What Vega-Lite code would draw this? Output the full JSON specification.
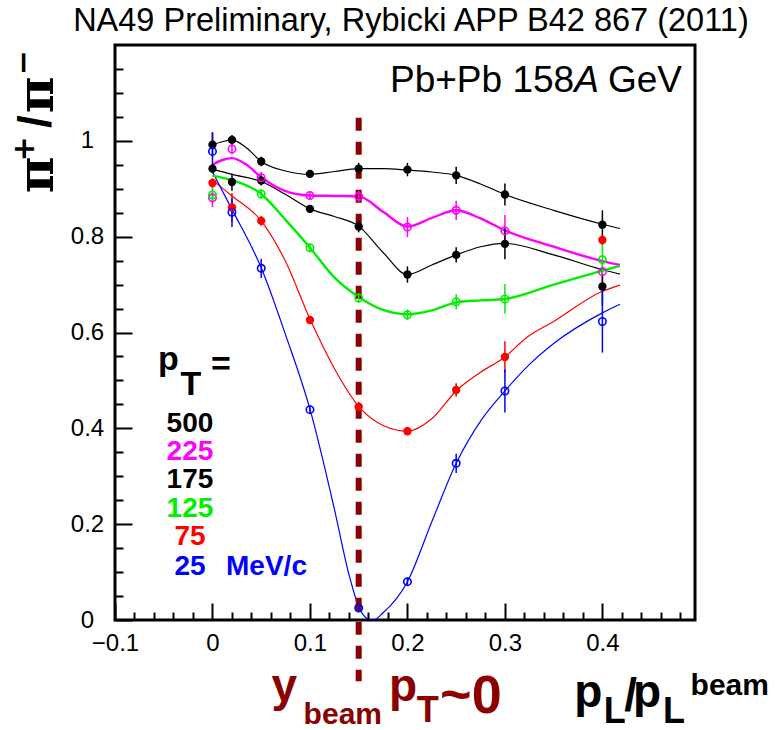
{
  "$schema": "https://vega.github.io/schema/vega-lite/v6.json",
  "width": 580,
  "height": 575,
  "autosize": {"type": "none"},
  "padding": {"left": 115, "top": 45, "right": 83, "bottom": 110},
  "background": "white",
  "config": {"view": {"stroke": "#000", "strokeWidth": 3}},
  "resolve": {"axis": {"x": "independent", "y": "independent"}},
  "datasets": {
    "pts": [
      {"s":"500","x":0,"y":0.992,"lo":0.967,"hi":1.017},
      {"s":"500","x":0.02,"y":1.002,"lo":0.992,"hi":1.012},
      {"s":"500","x":0.05,"y":0.957,"lo":0.947,"hi":0.967},
      {"s":"500","x":0.1,"y":0.931,"lo":0.923,"hi":0.939},
      {"s":"500","x":0.15,"y":0.942,"lo":0.930,"hi":0.954},
      {"s":"500","x":0.2,"y":0.940,"lo":0.926,"hi":0.954},
      {"s":"500","x":0.25,"y":0.928,"lo":0.910,"hi":0.946},
      {"s":"500","x":0.3,"y":0.888,"lo":0.865,"hi":0.911},
      {"s":"500","x":0.4,"y":0.825,"lo":0.795,"hi":0.855},
      {"s":"225","x":0,"y":0.881,"lo":0.862,"hi":0.900},
      {"s":"225","x":0.02,"y":0.983,"lo":0.972,"hi":0.994},
      {"s":"225","x":0.05,"y":0.923,"lo":0.911,"hi":0.935},
      {"s":"225","x":0.1,"y":0.886,"lo":0.878,"hi":0.894},
      {"s":"225","x":0.15,"y":0.884,"lo":0.872,"hi":0.896},
      {"s":"225","x":0.2,"y":0.820,"lo":0.799,"hi":0.841},
      {"s":"225","x":0.25,"y":0.855,"lo":0.835,"hi":0.875},
      {"s":"225","x":0.3,"y":0.812,"lo":0.779,"hi":0.845},
      {"s":"225","x":0.4,"y":0.727,"lo":0.707,"hi":0.747},
      {"s":"175","x":0,"y":0.942,"lo":0.932,"hi":0.952},
      {"s":"175","x":0.02,"y":0.914,"lo":0.896,"hi":0.932},
      {"s":"175","x":0.05,"y":0.917,"lo":0.907,"hi":0.927},
      {"s":"175","x":0.1,"y":0.858,"lo":0.850,"hi":0.866},
      {"s":"175","x":0.15,"y":0.821,"lo":0.809,"hi":0.833},
      {"s":"175","x":0.2,"y":0.721,"lo":0.704,"hi":0.738},
      {"s":"175","x":0.25,"y":0.762,"lo":0.746,"hi":0.778},
      {"s":"175","x":0.3,"y":0.785,"lo":0.753,"hi":0.817},
      {"s":"175","x":0.4,"y":0.696,"lo":0.656,"hi":0.736},
      {"s":"125","x":0,"y":0.887,"lo":0.872,"hi":0.902},
      {"s":"125","x":0.05,"y":0.889,"lo":0.879,"hi":0.899},
      {"s":"125","x":0.1,"y":0.777,"lo":0.769,"hi":0.785},
      {"s":"125","x":0.15,"y":0.672,"lo":0.662,"hi":0.682},
      {"s":"125","x":0.2,"y":0.637,"lo":0.626,"hi":0.648},
      {"s":"125","x":0.25,"y":0.664,"lo":0.648,"hi":0.680},
      {"s":"125","x":0.3,"y":0.670,"lo":0.639,"hi":0.701},
      {"s":"125","x":0.4,"y":0.752,"lo":0.722,"hi":0.790},
      {"s":"75","x":0,"y":0.912,"lo":0.902,"hi":0.922},
      {"s":"75","x":0.02,"y":0.861,"lo":0.831,"hi":0.891},
      {"s":"75","x":0.05,"y":0.833,"lo":0.823,"hi":0.843},
      {"s":"75","x":0.1,"y":0.626,"lo":0.618,"hi":0.634},
      {"s":"75","x":0.15,"y":0.445,"lo":0.435,"hi":0.455},
      {"s":"75","x":0.2,"y":0.394,"lo":0.386,"hi":0.402},
      {"s":"75","x":0.25,"y":0.480,"lo":0.466,"hi":0.494},
      {"s":"75","x":0.3,"y":0.549,"lo":0.516,"hi":0.582},
      {"s":"75","x":0.4,"y":0.793,"lo":0.783,"hi":0.803},
      {"s":"25","x":0,"y":0.978,"lo":0.938,"hi":1.018},
      {"s":"25","x":0.02,"y":0.851,"lo":0.820,"hi":0.880},
      {"s":"25","x":0.05,"y":0.734,"lo":0.714,"hi":0.754},
      {"s":"25","x":0.1,"y":0.439,"lo":0.431,"hi":0.447},
      {"s":"25","x":0.15,"y":0.025,"lo":0.017,"hi":0.033},
      {"s":"25","x":0.2,"y":0.080,"lo":0.072,"hi":0.088},
      {"s":"25","x":0.25,"y":0.327,"lo":0.307,"hi":0.347},
      {"s":"25","x":0.3,"y":0.478,"lo":0.433,"hi":0.523},
      {"s":"25","x":0.4,"y":0.623,"lo":0.558,"hi":0.688}
    ],
    "curves": [
      {"s":"500","x":0,"y":0.992},{"s":"500","x":0.01,"y":0.998},{"s":"500","x":0.02,"y":1.002},{"s":"500","x":0.035,"y":0.985},{"s":"500","x":0.05,"y":0.957},{"s":"500","x":0.075,"y":0.937},{"s":"500","x":0.1,"y":0.930},{"s":"500","x":0.125,"y":0.936},{"s":"500","x":0.15,"y":0.942},{"s":"500","x":0.175,"y":0.942},{"s":"500","x":0.2,"y":0.939},{"s":"500","x":0.225,"y":0.935},{"s":"500","x":0.25,"y":0.928},{"s":"500","x":0.275,"y":0.910},{"s":"500","x":0.3,"y":0.888},{"s":"500","x":0.35,"y":0.855},{"s":"500","x":0.4,"y":0.826},{"s":"500","x":0.418,"y":0.817},
      {"s":"225","x":0,"y":0.950},{"s":"225","x":0.01,"y":0.960},{"s":"225","x":0.02,"y":0.964},{"s":"225","x":0.035,"y":0.950},{"s":"225","x":0.05,"y":0.924},{"s":"225","x":0.075,"y":0.895},{"s":"225","x":0.1,"y":0.886},{"s":"225","x":0.125,"y":0.885},{"s":"225","x":0.15,"y":0.884},{"s":"225","x":0.175,"y":0.852},{"s":"225","x":0.2,"y":0.821},{"s":"225","x":0.225,"y":0.839},{"s":"225","x":0.25,"y":0.855},{"s":"225","x":0.275,"y":0.838},{"s":"225","x":0.3,"y":0.813},{"s":"225","x":0.35,"y":0.779},{"s":"225","x":0.4,"y":0.749},{"s":"225","x":0.418,"y":0.741},
      {"s":"175","x":0,"y":0.941},{"s":"175","x":0.02,"y":0.930},{"s":"175","x":0.05,"y":0.915},{"s":"175","x":0.075,"y":0.888},{"s":"175","x":0.1,"y":0.858},{"s":"175","x":0.125,"y":0.842},{"s":"175","x":0.15,"y":0.822},{"s":"175","x":0.175,"y":0.767},{"s":"175","x":0.2,"y":0.721},{"s":"175","x":0.225,"y":0.741},{"s":"175","x":0.25,"y":0.762},{"s":"175","x":0.275,"y":0.779},{"s":"175","x":0.3,"y":0.786},{"s":"175","x":0.35,"y":0.762},{"s":"175","x":0.4,"y":0.731},{"s":"175","x":0.418,"y":0.722},
      {"s":"125","x":0,"y":0.927},{"s":"125","x":0.02,"y":0.918},{"s":"125","x":0.05,"y":0.889},{"s":"125","x":0.075,"y":0.835},{"s":"125","x":0.1,"y":0.777},{"s":"125","x":0.125,"y":0.715},{"s":"125","x":0.15,"y":0.674},{"s":"125","x":0.175,"y":0.647},{"s":"125","x":0.2,"y":0.638},{"s":"125","x":0.225,"y":0.646},{"s":"125","x":0.25,"y":0.663},{"s":"125","x":0.275,"y":0.667},{"s":"125","x":0.3,"y":0.670},{"s":"125","x":0.35,"y":0.700},{"s":"125","x":0.4,"y":0.729},{"s":"125","x":0.418,"y":0.739},
      {"s":"75","x":0,"y":0.918},{"s":"75","x":0.02,"y":0.885},{"s":"75","x":0.05,"y":0.833},{"s":"75","x":0.075,"y":0.748},{"s":"75","x":0.1,"y":0.628},{"s":"75","x":0.125,"y":0.525},{"s":"75","x":0.15,"y":0.446},{"s":"75","x":0.175,"y":0.406},{"s":"75","x":0.2,"y":0.394},{"s":"75","x":0.225,"y":0.420},{"s":"75","x":0.25,"y":0.478},{"s":"75","x":0.275,"y":0.517},{"s":"75","x":0.3,"y":0.549},{"s":"75","x":0.322,"y":0.589},{"s":"75","x":0.35,"y":0.623},{"s":"75","x":0.4,"y":0.686},{"s":"75","x":0.418,"y":0.699},
      {"s":"25","x":0,"y":0.935},{"s":"25","x":0.02,"y":0.857},{"s":"25","x":0.05,"y":0.735},{"s":"25","x":0.075,"y":0.595},{"s":"25","x":0.1,"y":0.440},{"s":"25","x":0.125,"y":0.232},{"s":"25","x":0.14,"y":0.095},{"s":"25","x":0.15,"y":0.028},{"s":"25","x":0.158,"y":0.004},{"s":"25","x":0.165,"y":0.0},{"s":"25","x":0.175,"y":0.015},{"s":"25","x":0.2,"y":0.080},{"s":"25","x":0.225,"y":0.205},{"s":"25","x":0.25,"y":0.327},{"s":"25","x":0.275,"y":0.415},{"s":"25","x":0.3,"y":0.478},{"s":"25","x":0.325,"y":0.533},{"s":"25","x":0.35,"y":0.577},{"s":"25","x":0.4,"y":0.641},{"s":"25","x":0.418,"y":0.659}
    ]
  },
  "layer": [
    {
      "data": {"name": "curves"},
      "transform": [{"filter": {"field": "s", "oneOf": ["500", "175", "75", "25"]}}],
      "mark": {"type": "line", "interpolate": "monotone", "strokeWidth": 1.2, "clip": false},
      "encoding": {
        "x": {"field": "x", "type": "quantitative", "title": null,
          "scale": {"domain": [-0.1, 0.495], "nice": false, "zero": false},
          "axis": {"title": null, "orient": "bottom", "domain": false, "grid": false, "zindex": 1, "ticks": true,
            "values": [-0.1, 0, 0.1, 0.2, 0.3, 0.4], "offset": -17,
            "format": "~g", "labelFlush": false, "labelOverlap": false,
            "tickColor": "#000", "tickWidth": 2, "tickSize": 17, "tickOpacity": 1,
            "labelFont": "Liberation Sans", "labelFontSize": 24, "labelColor": "#000",
            "labelBaseline": "top", "labelPadding": 11}},
        "y": {"field": "y", "type": "quantitative", "title": null,
          "scale": {"domain": [0, 1.2], "nice": false, "zero": false},
          "axis": {"title": null, "orient": "left", "domain": false, "grid": false, "zindex": 1, "ticks": true,
            "values": [0, 0.2, 0.4, 0.6, 0.8, 1],
            "format": "~g", "labelFlush": false, "labelOverlap": false,
            "tickColor": "#000", "tickWidth": 2, "tickSize": -17,
            "labelFont": "Liberation Sans", "labelFontSize": 24, "labelColor": "#000",
            "labelAlign": "center", "labelBaseline": "middle", "labelPadding": 45}},
        "color": {"field": "s", "type": "nominal", "legend": null,
          "scale": {"domain": ["500", "225", "175", "125", "75", "25"], "range": ["#000000", "#ff00ff", "#000000", "#00ee00", "#ff0000", "#0000ff"]}},
        "detail": {"field": "s"}
      }
    },
    {
      "data": {"name": "curves"},
      "transform": [{"filter": {"field": "s", "oneOf": ["225", "125"]}}],
      "mark": {"type": "line", "interpolate": "monotone", "strokeWidth": 2.4, "clip": false},
      "encoding": {
        "x": {"field": "x", "type": "quantitative",
          "axis": {"title": null, "orient": "bottom", "domain": false, "grid": false, "labels": false, "zindex": 1, "offset": -8, "ticks": true,
            "values": [-0.08,-0.06,-0.04,-0.02,0.02,0.04,0.06,0.08,0.12,0.14,0.16,0.18,0.22,0.24,0.26,0.28,0.32,0.34,0.36,0.38,0.42,0.44,0.46,0.48],
            "tickColor": "#000", "tickWidth": 2, "tickSize": 8, "tickOpacity": 1}},
        "y": {"field": "y", "type": "quantitative",
          "axis": {"title": null, "orient": "left", "domain": false, "grid": false, "labels": false, "zindex": 1, "ticks": true,
            "values": [0.05,0.1,0.15,0.25,0.3,0.35,0.45,0.5,0.55,0.65,0.7,0.75,0.85,0.9,0.95,1.05,1.1,1.15],
            "tickColor": "#000", "tickWidth": 2, "tickSize": -8}},
        "color": {"field": "s", "type": "nominal", "legend": null},
        "detail": {"field": "s"}
      }
    },
    {
      "data": {"values": [{}]},
      "mark": {"type": "rule", "color": "#8b0000", "strokeWidth": 6, "strokeDash": [13, 11]},
      "encoding": {"x": {"datum": 0.15, "axis": null}, "y": {"datum": 1.048, "axis": null}, "y2": {"datum": -0.128}}
    },
    {
      "data": {"name": "pts"},
      "mark": {"type": "rule", "strokeWidth": 1.5},
      "encoding": {
        "x": {"field": "x", "type": "quantitative", "axis": null},
        "y": {"field": "lo", "type": "quantitative", "axis": null},
        "y2": {"field": "hi"},
        "color": {"field": "s", "type": "nominal", "legend": null}
      }
    },
    {
      "data": {"name": "pts"},
      "transform": [{"filter": {"field": "s", "oneOf": ["500", "175", "75"]}}],
      "mark": {"type": "point", "shape": "circle", "filled": true, "size": 70, "opacity": 1},
      "encoding": {
        "x": {"field": "x", "type": "quantitative", "axis": null},
        "y": {"field": "y", "type": "quantitative", "axis": null},
        "color": {"field": "s", "type": "nominal", "legend": null}
      }
    },
    {
      "data": {"name": "pts"},
      "transform": [{"filter": {"field": "s", "oneOf": ["225", "125", "25"]}}],
      "mark": {"type": "point", "shape": "circle", "filled": false, "size": 55, "strokeWidth": 1.6, "opacity": 1},
      "encoding": {
        "x": {"field": "x", "type": "quantitative", "axis": null},
        "y": {"field": "y", "type": "quantitative", "axis": null},
        "color": {"field": "s", "type": "nominal", "legend": null}
      }
    },
    {"data": {"values": [{}]}, "mark": {"type": "text", "text": "NA49 Preliminary, Rybicki APP B42 867 (2011)", "font": "Liberation Sans", "fontSize": 32.5, "color": "#000", "align": "center", "baseline": "alphabetic"}, "encoding": {"x": {"datum": 0.2036, "axis": null}, "y": {"datum": 1.2296, "axis": null}}},
    {"data": {"values": [{}]}, "mark": {"type": "text", "text": "Pb+Pb 158", "font": "Liberation Sans", "fontSize": 37, "color": "#000", "align": "left", "baseline": "alphabetic"}, "encoding": {"x": {"datum": 0.1821, "axis": null}, "y": {"datum": 1.1023, "axis": null}}},
    {"data": {"values": [{}]}, "mark": {"type": "text", "text": "A", "font": "Liberation Sans", "fontSize": 37, "fontStyle": "italic", "color": "#000", "align": "left", "baseline": "alphabetic"}, "encoding": {"x": {"datum": 0.371, "axis": null}, "y": {"datum": 1.1023, "axis": null}}},
    {"data": {"values": [{}]}, "mark": {"type": "text", "text": "GeV", "font": "Liberation Sans", "fontSize": 37, "color": "#000", "align": "right", "baseline": "alphabetic"}, "encoding": {"x": {"datum": 0.4816, "axis": null}, "y": {"datum": 1.1023, "axis": null}}},
    {"data": {"values": [{}]}, "mark": {"type": "text", "text": "p", "font": "Liberation Sans", "fontSize": 34, "fontWeight": "bold", "color": "#000", "align": "left", "baseline": "alphabetic"}, "encoding": {"x": {"datum": -0.056, "axis": null}, "y": {"datum": 0.522, "axis": null}}},
    {"data": {"values": [{}]}, "mark": {"type": "text", "text": "T", "font": "Liberation Sans", "fontSize": 34, "fontWeight": "bold", "color": "#000", "align": "center", "baseline": "alphabetic"}, "encoding": {"x": {"datum": -0.0221, "axis": null}, "y": {"datum": 0.470, "axis": null}}},
    {"data": {"values": [{}]}, "mark": {"type": "text", "text": "=", "font": "Liberation Sans", "fontSize": 34, "fontWeight": "bold", "color": "#000", "align": "center", "baseline": "alphabetic"}, "encoding": {"x": {"datum": 0.0087, "axis": null}, "y": {"datum": 0.511, "axis": null}}},
    {"data": {"values": [{}]}, "mark": {"type": "text", "text": "500", "font": "Liberation Sans", "fontSize": 28, "fontWeight": "bold", "color": "#000000", "align": "center", "baseline": "alphabetic"}, "encoding": {"x": {"datum": -0.0231, "axis": null}, "y": {"datum": 0.392, "axis": null}}},
    {"data": {"values": [{}]}, "mark": {"type": "text", "text": "225", "font": "Liberation Sans", "fontSize": 28, "fontWeight": "bold", "color": "#ff00ff", "align": "center", "baseline": "alphabetic"}, "encoding": {"x": {"datum": -0.0231, "axis": null}, "y": {"datum": 0.334, "axis": null}}},
    {"data": {"values": [{}]}, "mark": {"type": "text", "text": "175", "font": "Liberation Sans", "fontSize": 28, "fontWeight": "bold", "color": "#000000", "align": "center", "baseline": "alphabetic"}, "encoding": {"x": {"datum": -0.0231, "axis": null}, "y": {"datum": 0.276, "axis": null}}},
    {"data": {"values": [{}]}, "mark": {"type": "text", "text": "125", "font": "Liberation Sans", "fontSize": 28, "fontWeight": "bold", "color": "#00ee00", "align": "center", "baseline": "alphabetic"}, "encoding": {"x": {"datum": -0.0231, "axis": null}, "y": {"datum": 0.215, "axis": null}}},
    {"data": {"values": [{}]}, "mark": {"type": "text", "text": "75", "font": "Liberation Sans", "fontSize": 28, "fontWeight": "bold", "color": "#ff0000", "align": "center", "baseline": "alphabetic"}, "encoding": {"x": {"datum": -0.0231, "axis": null}, "y": {"datum": 0.157, "axis": null}}},
    {"data": {"values": [{}]}, "mark": {"type": "text", "text": "25", "font": "Liberation Sans", "fontSize": 28, "fontWeight": "bold", "color": "#0000ff", "align": "center", "baseline": "alphabetic"}, "encoding": {"x": {"datum": -0.0231, "axis": null}, "y": {"datum": 0.094, "axis": null}}},
    {"data": {"values": [{}]}, "mark": {"type": "text", "text": "MeV/c", "font": "Liberation Sans", "fontSize": 28, "fontWeight": "bold", "color": "#0000ff", "align": "left", "baseline": "alphabetic"}, "encoding": {"x": {"datum": 0.0139, "axis": null}, "y": {"datum": 0.094, "axis": null}}},
    {"data": {"values": [{}]}, "mark": {"type": "text", "text": "π", "font": "DejaVu Serif", "fontSize": 50, "fontWeight": "bold", "color": "#000", "angle": 270, "align": "center", "baseline": "middle"}, "encoding": {"x": {"datum": -0.1785, "axis": null}, "y": {"datum": 0.929, "axis": null}}},
    {"data": {"values": [{}]}, "mark": {"type": "text", "text": "+", "font": "DejaVu Sans", "fontSize": 30, "fontWeight": "bold", "color": "#000", "angle": 270, "align": "center", "baseline": "middle"}, "encoding": {"x": {"datum": -0.1924, "axis": null}, "y": {"datum": 0.983, "axis": null}}},
    {"data": {"values": [{}]}, "mark": {"type": "text", "text": "/", "font": "Liberation Sans", "fontSize": 46, "fontWeight": "bold", "color": "#000", "angle": 270, "align": "center", "baseline": "middle"}, "encoding": {"x": {"datum": -0.1805, "axis": null}, "y": {"datum": 1.040, "axis": null}}},
    {"data": {"values": [{}]}, "mark": {"type": "text", "text": "π", "font": "DejaVu Serif", "fontSize": 50, "fontWeight": "bold", "color": "#000", "angle": 270, "align": "center", "baseline": "middle"}, "encoding": {"x": {"datum": -0.1785, "axis": null}, "y": {"datum": 1.096, "axis": null}}},
    {"data": {"values": [{}]}, "mark": {"type": "text", "text": "−", "font": "DejaVu Sans", "fontSize": 30, "fontWeight": "bold", "color": "#000", "angle": 270, "align": "center", "baseline": "middle"}, "encoding": {"x": {"datum": -0.1929, "axis": null}, "y": {"datum": 1.163, "axis": null}}},
    {"data": {"values": [{}]}, "mark": {"type": "text", "text": "y", "font": "Liberation Sans", "fontSize": 46, "fontWeight": "bold", "color": "#8b0000", "align": "left", "baseline": "alphabetic"}, "encoding": {"x": {"datum": 0.0605, "axis": null}, "y": {"datum": -0.168, "axis": null}}},
    {"data": {"values": [{}]}, "mark": {"type": "text", "text": "beam", "font": "Liberation Sans", "fontSize": 30, "fontWeight": "bold", "color": "#8b0000", "align": "left", "baseline": "alphabetic"}, "encoding": {"x": {"datum": 0.0935, "axis": null}, "y": {"datum": -0.217, "axis": null}}},
    {"data": {"values": [{}]}, "mark": {"type": "text", "text": "p", "font": "Liberation Sans", "fontSize": 46, "fontWeight": "bold", "color": "#8b0000", "align": "left", "baseline": "alphabetic"}, "encoding": {"x": {"datum": 0.181, "axis": null}, "y": {"datum": -0.168, "axis": null}}},
    {"data": {"values": [{}]}, "mark": {"type": "text", "text": "T", "font": "Liberation Sans", "fontSize": 36, "fontWeight": "bold", "color": "#8b0000", "align": "left", "baseline": "alphabetic"}, "encoding": {"x": {"datum": 0.2095, "axis": null}, "y": {"datum": -0.213, "axis": null}}},
    {"data": {"values": [{}]}, "mark": {"type": "text", "text": "~0", "font": "Liberation Sans", "fontSize": 54, "fontWeight": "bold", "color": "#8b0000", "align": "left", "baseline": "alphabetic"}, "encoding": {"x": {"datum": 0.2335, "axis": null}, "y": {"datum": -0.194, "axis": null}}},
    {"data": {"values": [{}]}, "mark": {"type": "text", "text": "p", "font": "Liberation Sans", "fontSize": 46, "fontWeight": "bold", "color": "#000", "align": "left", "baseline": "alphabetic"}, "encoding": {"x": {"datum": 0.371, "axis": null}, "y": {"datum": -0.182, "axis": null}}},
    {"data": {"values": [{}]}, "mark": {"type": "text", "text": "L", "font": "Liberation Sans", "fontSize": 36, "fontWeight": "bold", "color": "#000", "align": "left", "baseline": "alphabetic"}, "encoding": {"x": {"datum": 0.4015, "axis": null}, "y": {"datum": -0.214, "axis": null}}},
    {"data": {"values": [{}]}, "mark": {"type": "text", "text": "/", "font": "Liberation Sans", "fontSize": 46, "fontWeight": "bold", "color": "#000", "align": "left", "baseline": "alphabetic"}, "encoding": {"x": {"datum": 0.4225, "axis": null}, "y": {"datum": -0.19, "axis": null}}},
    {"data": {"values": [{}]}, "mark": {"type": "text", "text": "p", "font": "Liberation Sans", "fontSize": 46, "fontWeight": "bold", "color": "#000", "align": "left", "baseline": "alphabetic"}, "encoding": {"x": {"datum": 0.4315, "axis": null}, "y": {"datum": -0.182, "axis": null}}},
    {"data": {"values": [{}]}, "mark": {"type": "text", "text": "L", "font": "Liberation Sans", "fontSize": 36, "fontWeight": "bold", "color": "#000", "align": "left", "baseline": "alphabetic"}, "encoding": {"x": {"datum": 0.4622, "axis": null}, "y": {"datum": -0.214, "axis": null}}},
    {"data": {"values": [{}]}, "mark": {"type": "text", "text": "beam", "font": "Liberation Sans", "fontSize": 30, "fontWeight": "bold", "color": "#000", "align": "left", "baseline": "alphabetic"}, "encoding": {"x": {"datum": 0.4905, "axis": null}, "y": {"datum": -0.156, "axis": null}}}
  ]
}
